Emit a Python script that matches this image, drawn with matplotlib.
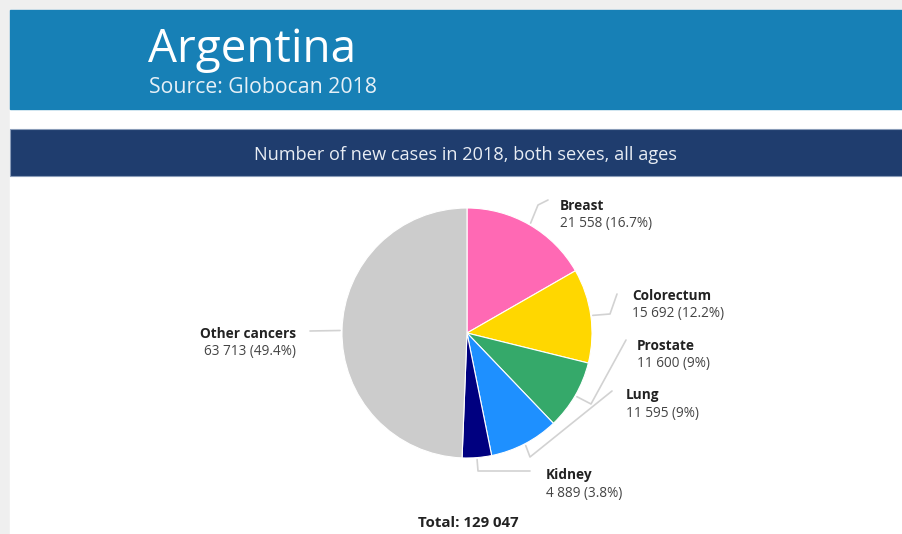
import matplotlib
matplotlib.use("Agg")
import matplotlib.pyplot as plt
from matplotlib.patches import Rectangle
import numpy as np

plt.rcParams['font.family'] = ['Open Sans', 'DejaVu Sans']

country = "Argentina"
source = "Source: Globocan 2018"
subtitle = "Number of new cases in 2018, both sexes, all ages"
cancers = ["Breast", "Colorectum", "Prostate", "Lung", "Kidney", "Other cancers"]
cases = [21558, 15692, 11600, 11595, 4889, 63713]
colors = ["#ff69b4", "#ffd700", "#35a96a", "#1e90ff", "#000080", "#cccccc"]

total = sum(cases)


def fmt_num(v):
    return f"{v:,}".replace(",", " ")


def fmt_pct(v):
    p = round(v / total * 100, 1)
    return f"{p:g}%"


W, H = 903, 534
fig = plt.figure(figsize=(W / 100, H / 100), dpi=100, facecolor="#efefef")
ax = fig.add_axes([0, 0, 1, 1])
ax.set_xlim(0, W)
ax.set_ylim(H, 0)  # pixel coords, y down
ax.axis("off")

# panels
ax.add_patch(Rectangle((10, 10), W - 10, H - 10, color="white", zorder=0))
ax.add_patch(Rectangle((10, 10), W - 10, 99, color="#1780b6", zorder=1))
ax.add_patch(Rectangle((10, 129), W - 10, 47, facecolor="#1f3d6e",
                       edgecolor="#8a9cb8", lw=0.8, zorder=1))

ax.text(148, 62, country, fontsize=33, color="white", va="baseline", zorder=2)
ax.text(149, 93, source, fontsize=15.3, color="#e6f0f7", va="baseline", zorder=2)
ax.text(466, 155, subtitle, fontsize=13.1, color="#e8edf4", ha="center",
        va="center", zorder=2)

# pie (y axis is inverted, so counterclock=True draws clockwise on screen)
cx, cy, R = 467, 333, 125
wedges, _ = ax.pie(cases, colors=colors, startangle=-90, counterclock=True,
                   center=(cx, cy), radius=R,
                   wedgeprops=dict(edgecolor="white", linewidth=0.8),
                   frame=True)
ax.set_xlim(0, W)
ax.set_ylim(H, 0)
ax.set_aspect("auto")
ax.axis("off")

# label layout: name position, leader elbow and end
label_pos = {
    "Breast": (560, 206, "left"),
    "Colorectum": (632, 296, "left"),
    "Prostate": (637, 346, "left"),
    "Lung": (626, 395, "left"),
    "Kidney": (546, 475, "left"),
    "Other cancers": (296, 334, "right"),
}
leaders = {
    "Breast": [(538, 205), (548, 200)],
    "Colorectum": [(610, 314), (617, 294)],
    "Prostate": [(591, 404), (626, 340)],
    "Lung": [(530, 457), (612, 391)],
    "Kidney": [(478, 471), (530, 471)],
    "Other cancers": [(310, 331)],
}

for w, name, v in zip(wedges, cancers, cases):
    mid = np.deg2rad((w.theta1 + w.theta2) / 2)
    ax0 = cx + (R + 2) * np.cos(mid)
    ay0 = cy + (R + 2) * np.sin(mid)
    pts = [(ax0, ay0)] + leaders[name]
    xs, ys = zip(*pts)
    ax.plot(xs, ys, color="#d2d2d2", lw=1.2, solid_joinstyle="round",
            solid_capstyle="round", zorder=3)
    tx, ty, ha = label_pos[name]
    ax.text(tx, ty, name, fontsize=9.8, fontweight="bold", color="#222222",
            ha=ha, va="center", zorder=4)
    ax.text(tx, ty + 18, f"{fmt_num(v)} ({fmt_pct(v)})", fontsize=9.8,
            color="#444444", ha=ha, va="center", zorder=4)

ax.text(468, 523, f"Total: {fmt_num(total)}", fontsize=10.8, fontweight="bold",
        color="#222222", ha="center", va="center", zorder=4)

fig.savefig("out.png", dpi=100, facecolor=fig.get_facecolor())
